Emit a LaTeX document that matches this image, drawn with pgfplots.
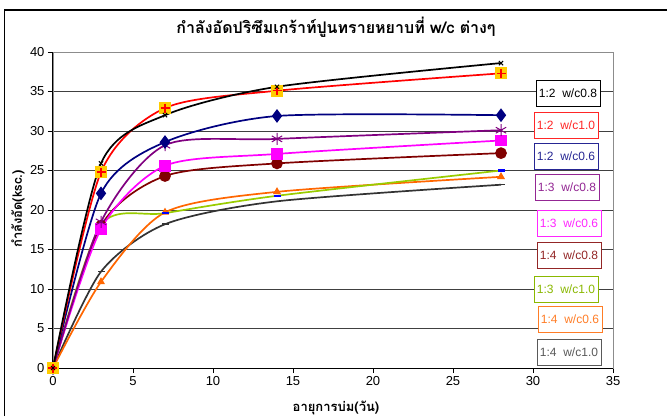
\documentclass[border=0pt]{standalone}
\usepackage{pgfplots}
\pgfplotsset{compat=1.18}
\usepackage{fontspec}
\setmainfont{Liberation Sans}
\newfontfamily\thaifont[Script=Thai]{Loma}

\definecolor{cNavy}{HTML}{000080}
\definecolor{cPurple}{HTML}{800080}
\definecolor{cMagenta}{HTML}{FF00FF}
\definecolor{cDarkRed}{HTML}{800000}
\definecolor{cGreen}{HTML}{99CC00}
\definecolor{cOrange}{HTML}{FF6600}
\definecolor{cGray}{HTML}{333333}
\definecolor{cGold}{HTML}{FFCC00}
\definecolor{cRed}{HTML}{FF0000}

\begin{document}
\begin{tikzpicture}
\begin{axis}[
  name=ax, at={(0,0)}, anchor=south west,
  scale only axis, width=560pt, height=316pt,
  xmin=0, xmax=35, ymin=0, ymax=40,
  xtick={0,5,...,35}, ytick={0,5,...,40},
  xtick pos=lower, ytick pos=left,
  tick align=outside, major tick length=5pt,
  tick style={black, line width=0.8pt},
  axis line style={draw=black!45, line width=0.9pt},
  ymajorgrids, grid style={black!75, line width=0.8pt},
  ticklabel style={font=\fontsize{13}{15}\selectfont},
  /pgf/number format/assume math mode=true,
  clip=false,
  every axis plot/.append style={smooth, tension=0.45, line width=1.7pt},
]
% solid left and bottom axis lines
\draw[black, line width=1pt] (rel axis cs:0,1) -- (rel axis cs:0,0) -- (rel axis cs:1,0);

% 1:4 w/c1.0
\addplot[cGray, mark=-, mark size=3.5pt, mark options={line width=1.5pt}]
  coordinates {(0,0) (3,12.2) (7,18.2) (14,21.1) (28,23.2)};
% 1:4 w/c0.6
\addplot[cOrange, mark=triangle*, mark size=3pt]
  coordinates {(0,0) (3,10.9) (7,19.7) (14,22.3) (28,24.2)};
% 1:3 w/c1.0
\addplot[cGreen, mark=-, mark size=3.5pt, mark options={blue, line width=2.5pt}]
  coordinates {(0,0) (3,18.1) (7,19.6) (14,21.8) (28,25.0)};
% 1:4 w/c0.8
\addplot[cDarkRed, mark=*, mark size=5pt]
  coordinates {(0,0) (3,18.0) (7,24.3) (14,25.9) (28,27.2)};
% 1:3 w/c0.6
\addplot[cMagenta, mark=square*, mark size=5pt]
  coordinates {(0,0) (3,17.6) (7,25.6) (14,27.1) (28,28.8)};
% 1:3 w/c0.8
\addplot[cPurple, mark=asterisk, mark size=6pt, mark options={line width=1pt}]
  coordinates {(0,0) (3,18.5) (7,28.2) (14,29.0) (28,30.1)};
% 1:2 w/c0.6
\addplot[cNavy, mark=diamond*, mark size=5.5pt]
  coordinates {(0,0) (3,22.1) (7,28.6) (14,31.9) (28,32.0)};
% 1:2 w/c1.0
\addplot[cRed, mark=square*, mark size=5pt, mark options={cGold}]
  coordinates {(0,0) (3,24.8) (7,32.9) (14,35.1) (28,37.3)};
\addplot[only marks, mark=+, mark size=4.5pt, mark options={cRed, line width=1.2pt}, forget plot]
  coordinates {(0,0) (3,24.8) (7,32.9) (14,35.1) (28,37.3)};
% 1:2 w/c0.8
\addplot[black, mark=x, mark size=3pt, mark options={line width=1pt}]
  coordinates {(0,0) (3,25.9) (7,32.0) (14,35.6) (28,38.6)};
\end{axis}

% everything else is placed in a frame whose origin is the lower-left corner of the chart area
\begin{scope}[shift={(ax.south west)}, shift={(-53pt,-48pt)}, x=1pt, y=1pt]
\pgfresetboundingbox
\useasboundingbox (0,0) rectangle (667,416);
% chart area border
\draw[line width=1.3pt] (4.5,0) -- (4.5,406) -- (667,406);

% titles
\node[font=\thaifont\bfseries\fontsize{16}{19}\selectfont] at (336,389) {กำลังอัดปริซึมเกร้าท์ปูนทรายหยาบที่ w/c ต่างๆ};
\node[font=\thaifont\bfseries\fontsize{13}{15}\selectfont] at (336,8) {อายุการบ่ม(วัน)};
\node[font=\thaifont\bfseries\fontsize{13}{15}\selectfont, rotate=90] at (18,207) {กำลังอัด(ksc.)};

% series labels
\tikzset{lab/.style={fill=white, draw=#1, text=#1, line width=0.9pt,
  minimum width=64pt, minimum height=26pt, inner sep=0pt,
  font=\fontsize{12}{14}\selectfont}}
\node[lab=black] at (568,323) {1:2\ \ w/c0.8};
\node[lab=cRed!85] at (566,291) {1:2\ \ w/c1.0};
\node[lab=cNavy!85] at (566,260) {1:2\ \ w/c0.6};
\node[lab=cPurple!85] at (567,229) {1:3\ \ w/c0.8};
\node[lab=cMagenta!85] at (569,193) {1:3\ \ w/c0.6};
\node[lab=cDarkRed!85] at (569,161) {1:4\ \ w/c0.8};
\node[lab=cGreen!90!black] at (566,127) {1:3\ \ w/c1.0};
\node[lab=cOrange!85] at (570,97) {1:4\ \ w/c0.6};
\node[lab=black!65] at (569,64) {1:4\ \ w/c1.0};
\end{scope}
\end{tikzpicture}
\end{document}
